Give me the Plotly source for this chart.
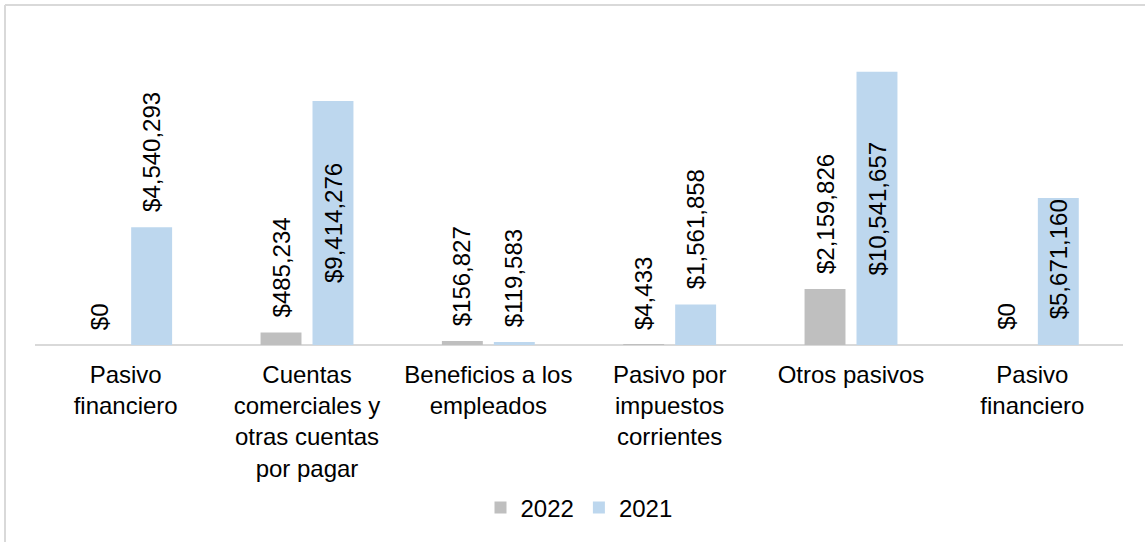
import plotly.graph_objects as go

categories = [
    "Pasivo<br>financiero",
    "Cuentas<br>comerciales y<br>otras cuentas<br>por pagar",
    "Beneficios a los<br>empleados",
    "Pasivo por<br>impuestos<br>corrientes",
    "Otros pasivos",
    "Pasivo<br>financiero",
]
values_2022 = [0, 485234, 156827, 4433, 2159826, 0]
values_2021 = [4540293, 9414276, 119583, 1561858, 10541657, 5671160]
series_names = ["2022", "2021"]

# label placement style for each 2021 label (2022 labels all sit above the bar)
label_place_2021 = ["outside", "middle", "outside", "outside", "middle", "top"]

FONT = "Liberation Sans, Arial, sans-serif"
GRAY = "#BFBFBF"
BLUE = "#BDD7EE"
BARGAP = 0.427
BARGROUPGAP = 0.212

x = list(range(len(categories)))

fig = go.Figure()
fig.add_trace(go.Bar(x=x, y=values_2022, name=series_names[0], marker_color=GRAY,
                     marker_line_width=0, hoverinfo="skip"))
fig.add_trace(go.Bar(x=x, y=values_2021, name=series_names[1], marker_color=BLUE,
                     marker_line_width=0, hoverinfo="skip"))

def fmt(v):
    return "${:,.0f}".format(v)

offset = (1 - BARGAP) / 4.0
annotations = []
for i, v in enumerate(values_2022):
    annotations.append(dict(x=i - offset, y=v, text=fmt(v), textangle=-90,
                            showarrow=False, xanchor="center", yanchor="bottom",
                            yshift=13, font=dict(family=FONT, size=24, color="#000000")))
for i, v in enumerate(values_2021):
    place = label_place_2021[i]
    if place == "outside":
        ann = dict(y=v, yanchor="bottom", yshift=13)
    elif place == "middle":
        ann = dict(y=v / 2.0, yanchor="middle", yshift=0)
    else:
        ann = dict(y=v, yanchor="top", yshift=1)
    ann.update(x=i + offset, text=fmt(v), textangle=-90, showarrow=False,
               xanchor="center", font=dict(family=FONT, size=24, color="#000000"))
    annotations.append(ann)

fig.update_layout(
    width=1145, height=542,
    margin=dict(l=35, r=22, t=34, b=197),
    paper_bgcolor="white", plot_bgcolor="white",
    barmode="group", bargap=BARGAP, bargroupgap=BARGROUPGAP,
    font=dict(family=FONT, size=24, color="#000000"),
    showlegend=True,
    legend=dict(orientation="h", x=0.5, xanchor="center", y=-0.524, yanchor="middle",
                font=dict(family=FONT, size=24, color="#000000"),
                itemclick=False, itemdoubleclick=False),
    xaxis=dict(tickmode="array", tickvals=x, ticktext=categories,
               range=[-0.5, len(categories) - 0.5],
               showgrid=False, zeroline=False, showline=False,
               ticks="", ticklabelstandoff=13,
               tickfont=dict(family=FONT, size=24, color="#000000")),
    yaxis=dict(range=[0, 12000000], showgrid=False, zeroline=True,
               zerolinecolor="#D9D9D9", zerolinewidth=2,
               showticklabels=False, showline=False, ticks=""),
    annotations=annotations,
    shapes=[
        dict(type="line", xref="paper", yref="paper",
             x0=-30 / 1088.0, x1=-30 / 1088.0, y0=1 + 29 / 311.0, y1=-197 / 311.0,
             line=dict(color="#D9D9D9", width=2)),
        dict(type="line", xref="paper", yref="paper",
             x0=-30 / 1088.0, x1=1 + 22 / 1088.0, y0=1 + 29 / 311.0, y1=1 + 29 / 311.0,
             line=dict(color="#D9D9D9", width=2)),
    ],
)

fig.write_html("out.html", config={"displayModeBar": False},
               post_script="document.body.style.margin='0';document.body.style.overflow='hidden';")
